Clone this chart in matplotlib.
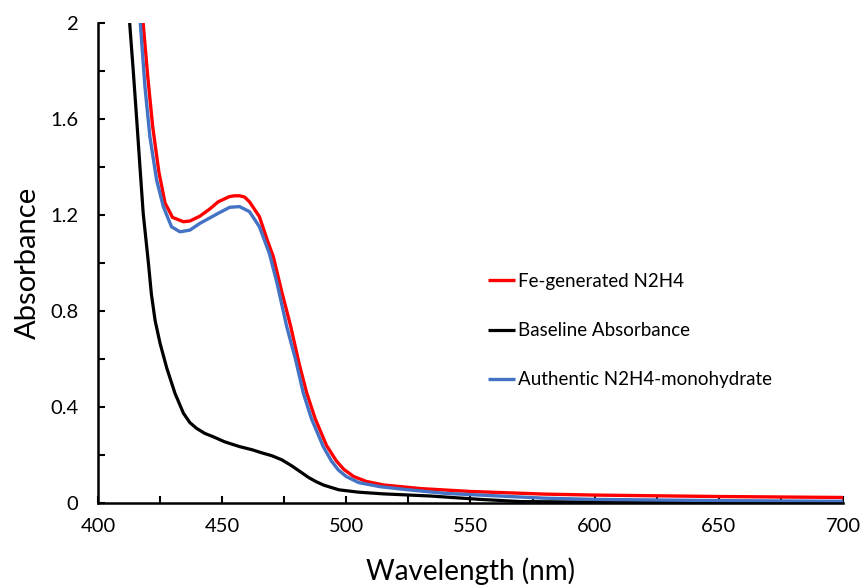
import matplotlib
matplotlib.use("Agg")
import matplotlib.pyplot as plt
from matplotlib.ticker import MultipleLocator, FixedLocator

plt.rcParams['font.family'] = ['Lato', 'DejaVu Sans']

# Baseline absorbance spectrum (nm, absorbance)
base_nm = [412.6, 414.2, 415.6, 416.9, 418.2, 420.3, 421.5, 423.0, 425.0, 427.7,
           431.0, 434.4, 437.0, 439.7, 443.0, 446.4, 451.0, 457.0, 462.0, 466.6,
           470.0, 474.0, 478.0, 481.5, 485.0, 488.0, 491.0, 497.0, 505.0, 515.0,
           534.0, 554.0, 570.0, 600.0, 650.0, 700.0]
base_abs = [2.02, 1.80, 1.596, 1.40, 1.207, 1.0, 0.87, 0.76, 0.665, 0.562,
            0.457, 0.374, 0.335, 0.311, 0.290, 0.276, 0.255, 0.235, 0.222, 0.207,
            0.197, 0.180, 0.155, 0.130, 0.105, 0.088, 0.074, 0.055, 0.045, 0.038,
            0.029, 0.015, 0.006, 0.004, 0.003, 0.003]

# Fe-generated N2H4
fe_nm = [418.0, 420.0, 422.0, 424.5, 427.0, 430.0, 434.4, 437.0, 441.0, 445.0,
         448.4, 453.0, 455.0, 457.0, 459.0, 461.0, 465.0, 468.0, 470.6, 474.0,
         477.5, 481.0, 484.0, 487.5, 492.0, 496.0, 499.0, 503.0, 508.0, 515.0,
         530.0, 550.0, 580.0, 600.0, 650.0, 700.0]
fe_abs = [2.02, 1.78, 1.57, 1.38, 1.25, 1.19, 1.172, 1.175, 1.195, 1.225,
          1.255, 1.277, 1.28, 1.28, 1.275, 1.255, 1.193, 1.10, 1.026, 0.88,
          0.74, 0.58, 0.46, 0.35, 0.24, 0.175, 0.14, 0.11, 0.09, 0.075,
          0.060, 0.048, 0.037, 0.033, 0.027, 0.023]

# Authentic N2H4-monohydrate
auth_nm = [416.9, 418.9, 420.9, 423.6, 426.3, 429.6, 433.0, 437.0, 441.0, 448.4,
           453.0, 457.0, 461.0, 465.0, 469.0, 472.0, 476.0, 479.5, 482.7, 486.0,
           490.7, 494.0, 496.8, 500.0, 505.0, 513.6, 525.0, 540.0, 560.0, 580.0,
           600.0, 650.0, 700.0]
auth_abs = [2.02, 1.735, 1.526, 1.346, 1.235, 1.151, 1.13, 1.137, 1.165, 1.207,
            1.232, 1.235, 1.214, 1.151, 1.04, 0.92, 0.735, 0.60, 0.457, 0.35,
            0.235, 0.175, 0.1375, 0.11, 0.085, 0.068, 0.055, 0.040, 0.030, 0.020,
            0.015, 0.010, 0.007]

y_ticks = [0, 0.4, 0.8, 1.2, 1.6, 2.0]
y_tick_labels = ['0', '0.4', '0.8', '1.2', '1.6', '2']
x_ticks = [400, 450, 500, 550, 600, 650, 700]

fig = plt.figure(figsize=(8.65, 5.86), dpi=100)
ax = fig.add_axes([98 / 865, 83 / 586, 745 / 865, 480 / 586])

line_kw = dict(solid_joinstyle='round', solid_capstyle='butt')
ax.plot(fe_nm, fe_abs, color='#ff0000', lw=2.4, label='Fe-generated N2H4', **line_kw)
ax.plot(base_nm, base_abs, color='#000000', lw=2.3, label='Baseline Absorbance', **line_kw)
ax.plot(auth_nm, auth_abs, color='#4472c4', lw=2.4,
        label='Authentic N2H4-monohydrate', **line_kw)

ax.set_xlim(400, 700)
ax.set_ylim(0, 2)
ax.xaxis.set_major_locator(FixedLocator(x_ticks))
ax.xaxis.set_minor_locator(MultipleLocator(25))
ax.yaxis.set_major_locator(FixedLocator(y_ticks))
ax.yaxis.set_minor_locator(MultipleLocator(0.2))
ax.set_yticklabels(y_tick_labels)

for side in ('top', 'right'):
    ax.spines[side].set_visible(False)
for side in ('left', 'bottom'):
    ax.spines[side].set_linewidth(1.8)

ax.tick_params(which='both', direction='in', width=1.5, length=5,
               labelsize=14.5, colors='black')
ax.tick_params(axis='y', which='major', pad=14)
ax.tick_params(axis='x', which='major', pad=11)

ax.set_xlabel('Wavelength (nm)', fontsize=20, labelpad=16)
ax.set_ylabel('Absorbance', fontsize=21, labelpad=7)

leg = ax.legend(loc='upper left', bbox_to_anchor=(488 / 865, 1 - 273 / 586),
                bbox_transform=fig.transFigure, frameon=False, fontsize=13.5,
                handlelength=1.45, handletextpad=0.15, labelspacing=1.72,
                borderpad=0, borderaxespad=0)

fig.savefig('out.png', dpi=100)
